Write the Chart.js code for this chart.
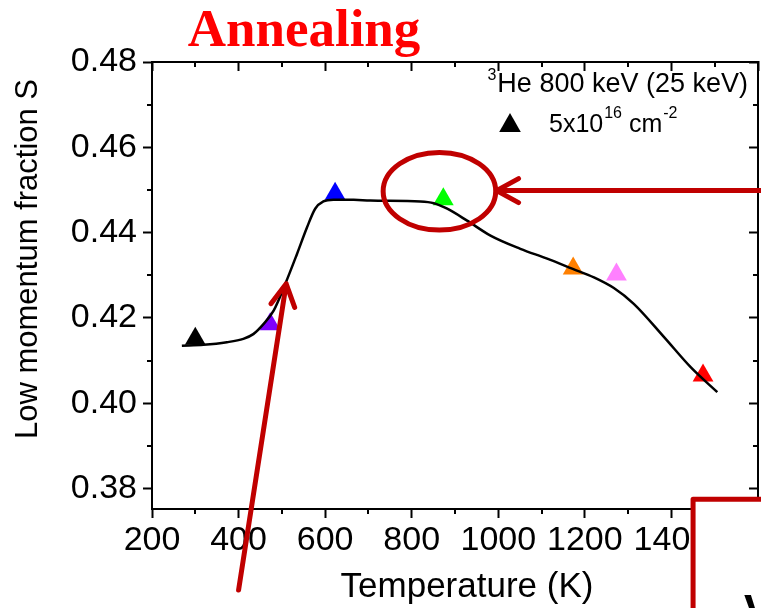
<!DOCTYPE html>
<html>
<head>
<meta charset="utf-8">
<script src="https://cdn.jsdelivr.net/npm/chart.js@4.4.0/dist/chart.umd.min.js"></script>
<style>
  html, body { margin: 0; padding: 0; background: #fff; }
  #wrap { width: 761px; height: 608px; }
</style>
</head>
<body>
<div id="wrap"><canvas id="annealing-chart"></canvas></div>
<script>
// Measured S values after annealing (temperature in K)
var pointTemps = [300, 473, 623, 873, 1173, 1273, 1473];
var pointS = [0.4151, 0.4185, 0.4491, 0.4478, 0.4316, 0.4302, 0.4065];
var pointColors = ["#000000", "#8000FF", "#0000FF", "#00FF00", "#FF8000", "#FF80FF", "#FF0000"];

// Guide-to-the-eye curve
var curveTemps = [269, 319, 373, 411, 434, 458, 481, 508, 535, 558, 577, 596, 619, 666, 704, 820, 851, 882, 928, 982, 1051, 1113, 1172, 1221, 1267, 1313, 1383, 1445, 1506];
var curveS = [0.4135, 0.4137, 0.4143, 0.4151, 0.4162, 0.4186, 0.4217, 0.4280, 0.4350, 0.4412, 0.4456, 0.4473, 0.4477, 0.4477, 0.4475, 0.4473, 0.4469, 0.4456, 0.4428, 0.4393, 0.4362, 0.4339, 0.4315, 0.4295, 0.4270, 0.4233, 0.4155, 0.4084, 0.4026];

// Axis ticks
var xTicks = [200, 400, 600, 800, 1000, 1200, 1400, 1600];
var yTicks = [0.38, 0.40, 0.42, 0.44, 0.46, 0.48];

var SANS = "'Liberation Sans', Arial, sans-serif";
var RED = "#C00000";

function setTicks(list) {
    return function (scale) {
        scale.ticks = list.map(function (v) { return { value: v }; });
    };
}
function fixSize(w, h) {
    return function (scale) {
        if (w !== null) scale.width = w;
        if (h !== null) scale.height = h;
        scale.paddingLeft = 0;
        scale.paddingRight = 0;
    };
}

// minor ticks half way between the major ones
var minorTicks = {
    id: "minorTicks",
    afterDatasetsDraw: function (chart) {
        var ctx = chart.ctx;
        ctx.save();
        ctx.strokeStyle = "#000";
        ctx.lineWidth = 2;
        ["x", "x2", "y", "y2"].forEach(function (id) {
            var s = chart.scales[id];
            var t = s.ticks;
            for (var i = 0; i < t.length - 1; i++) {
                var v = (t[i].value + t[i + 1].value) / 2;
                var p = Math.round(s.getPixelForValue(v));
                ctx.beginPath();
                if (id === "x") { ctx.moveTo(p, s.top); ctx.lineTo(p, s.top + 5); }
                if (id === "x2") { ctx.moveTo(p, s.bottom); ctx.lineTo(p, s.bottom + 5); }
                if (id === "y") { ctx.moveTo(s.right, p); ctx.lineTo(s.right - 5, p); }
                if (id === "y2") { ctx.moveTo(s.left, p); ctx.lineTo(s.left - 5, p); }
                ctx.stroke();
            }
        });
        ctx.restore();
    }
};

function arrow(ctx, x1, y1, x2, y2) {
    var a = Math.atan2(y2 - y1, x2 - x1);
    ctx.beginPath();
    ctx.moveTo(x1, y1);
    ctx.lineTo(x2, y2);
    ctx.moveTo(x2 - 22 * Math.cos(a) + 12 * Math.sin(a), y2 - 22 * Math.sin(a) - 12 * Math.cos(a));
    ctx.lineTo(x2, y2);
    ctx.lineTo(x2 - 22 * Math.cos(a) - 12 * Math.sin(a), y2 - 22 * Math.sin(a) + 12 * Math.cos(a));
    ctx.stroke();
}

// texts, legend and the red highlights
var decorations = {
    id: "decorations",
    afterDraw: function (chart) {
        var ctx = chart.ctx;
        var X = function (v) { return chart.scales.x.getPixelForValue(v); };
        var Y = function (v) { return chart.scales.y.getPixelForValue(v); };
        ctx.save();

        // title
        ctx.fillStyle = "#FF0000";
        ctx.font = "bold 53px 'Liberation Serif', 'Times New Roman', serif";
        ctx.textAlign = "center";
        ctx.textBaseline = "alphabetic";
        ctx.fillText("Annealing", 304, 46);

        // axis titles
        ctx.fillStyle = "#000";
        ctx.font = "35px " + SANS;
        ctx.fillText("Temperature (K)", 467, 597);
        ctx.save();
        ctx.translate(28, 259);
        ctx.rotate(-Math.PI / 2);
        ctx.font = "31px " + SANS;
        ctx.textBaseline = "middle";
        ctx.fillText("Low momentum fraction S", 0, 0);
        ctx.restore();

        // legend
        ctx.textAlign = "right";
        ctx.font = "27px " + SANS;
        ctx.fillText("He 800 keV (25 keV)", 748, 92);
        var w = ctx.measureText("He 800 keV (25 keV)").width;
        ctx.font = "16px " + SANS;
        ctx.fillText("3", 748 - w - 1, 80);
        ctx.textAlign = "left";
        ctx.beginPath();
        ctx.moveTo(510, 113);
        ctx.lineTo(520.8, 132);
        ctx.lineTo(499.2, 132);
        ctx.closePath();
        ctx.fill();
        var x = 549;
        ctx.font = "25px " + SANS;
        ctx.fillText("5x10", x, 132); x += ctx.measureText("5x10").width + 1;
        ctx.font = "16px " + SANS;
        ctx.fillText("16", x, 118); x += ctx.measureText("16").width;
        ctx.font = "25px " + SANS;
        ctx.fillText(" cm", x, 132); x += ctx.measureText(" cm").width + 1;
        ctx.font = "16px " + SANS;
        ctx.fillText("-2", x, 118);

        // red highlights
        ctx.strokeStyle = RED;
        ctx.lineWidth = 5;
        ctx.lineCap = "round";
        ctx.lineJoin = "round";
        ctx.beginPath();
        ctx.ellipse(X(864), Y(0.4497), X(994) - X(864), Y(0.4406) - Y(0.4497), 0, 0, Math.PI * 2);
        ctx.stroke();
        arrow(ctx, X(1620), Y(0.44985), X(996), Y(0.44985));
        arrow(ctx, X(400), Y(0.3562), X(510), Y(0.4280));

        // covering box at the lower right
        ctx.lineCap = "butt";
        ctx.fillStyle = "#fff";
        ctx.fillRect(X(1450), Y(0.3775), 200, 200);
        ctx.strokeRect(X(1450), Y(0.3775), 200, 200);
        ctx.fillStyle = "#000";
        ctx.font = "bold 44px " + SANS;
        ctx.fillText("V", 744, 626);

        ctx.restore();
    }
};

var ctx = document.getElementById("annealing-chart");

var chartData = {
    datasets: [
        {
            type: "line",
            data: curveTemps.map(function (t, i) { return { x: t, y: curveS[i] }; }),
            borderColor: "#000",
            borderWidth: 2.5,
            pointRadius: 0,
            cubicInterpolationMode: "monotone",
            fill: false
        },
        {
            type: "scatter",
            data: pointTemps.map(function (t, i) { return { x: t, y: pointS[i] }; }),
            pointStyle: "triangle",
            pointRadius: 12,
            pointBackgroundColor: pointColors,
            pointBorderColor: pointColors,
            pointBorderWidth: 0
        }
    ]
};

var axisFont = { family: SANS, size: 34 };
var border = { display: true, color: "#000", width: 2 };

var chartOptions = {
    responsive: true,
    maintainAspectRatio: false,
    animation: false,
    layout: { autoPadding: false, padding: { top: 62, left: 0, right: 0, bottom: 0 } },
    plugins: { legend: { display: false }, tooltip: { enabled: false } },
    scales: {
        x: {
            type: "linear", position: "bottom", min: 200, max: 1600,
            afterBuildTicks: setTicks(xTicks), afterFit: fixSize(null, 99),
            border: border,
            grid: { drawOnChartArea: false, tickLength: 9, tickWidth: 2, tickColor: "#000" },
            ticks: {
                font: axisFont, color: "#000", padding: 2, maxRotation: 0, autoSkip: false,
                callback: function (v) { return v === 1600 ? "" : String(v); }
            }
        },
        x2: {
            type: "linear", position: "top", min: 200, max: 1600,
            afterBuildTicks: setTicks(xTicks), afterFit: fixSize(null, 0),
            border: border,
            grid: { drawOnChartArea: false, tickLength: -9, tickWidth: 2, tickColor: "#000" },
            ticks: { display: false }
        },
        y: {
            type: "linear", position: "left", min: 0.3752, max: 0.48,
            afterBuildTicks: setTicks(yTicks), afterFit: fixSize(152, null),
            border: border,
            grid: { drawOnChartArea: false, tickLength: 9, tickWidth: 2, tickColor: "#000" },
            ticks: {
                font: axisFont, color: "#000", padding: 6,
                callback: function (v) { return v.toFixed(2); }
            }
        },
        y2: {
            type: "linear", position: "right", min: 0.3752, max: 0.48,
            afterBuildTicks: setTicks(yTicks), afterFit: fixSize(3, null),
            border: border,
            grid: { drawOnChartArea: false, tickLength: -9, tickWidth: 2, tickColor: "#000" },
            ticks: { display: false }
        }
    }
};

var annealingChart = new Chart(ctx, {
    data: chartData,
    options: chartOptions,
    plugins: [minorTicks, decorations]
});
</script>
</body>
</html>
